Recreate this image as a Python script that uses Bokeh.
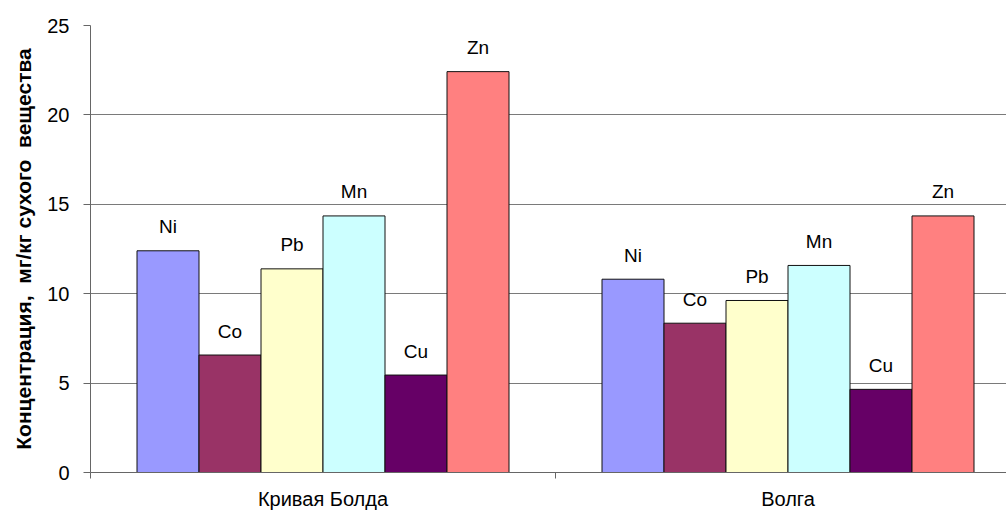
from bokeh.plotting import figure
from bokeh.models import ColumnDataSource, Range1d, FixedTicker
from bokeh.core.properties import value
from bokeh.embed import file_html
from bokeh.resources import INLINE

groups = ["Кривая Болда", "Волга"]
elements = ["Ni", "Co", "Pb", "Mn", "Cu", "Zn"]
kriv_bolda = [12.4, 6.57, 11.39, 14.35, 5.45, 22.42]
volga = [10.81, 8.35, 9.62, 11.58, 4.65, 14.35]
colors = ["#9999FF", "#993366", "#FFFFCC", "#CCFFFF", "#660066", "#FF8080"]
y_ticks = [0, 5, 10, 15, 20, 25]

FONT = "Liberation Sans"
bar_w = 1 / 7.5  # Excel gap width 150%

xs, tops, cols, labels = [], [], [], []
for g, vals in enumerate([kriv_bolda, volga]):
    for i, v in enumerate(vals):
        xs.append(g + (i + 1.25) * bar_w)
        tops.append(v)
        cols.append(colors[i])
        labels.append(elements[i])

src = ColumnDataSource(dict(x=xs, top=tops, color=cols, label=labels))

p = figure(frame_width=916, frame_height=447, output_backend="svg", toolbar_location=None,
           x_range=Range1d(0, 916 / 465), y_range=Range1d(0, 25),
           min_border_left=90, min_border_right=0, min_border_top=25, min_border_bottom=39)
p.outline_line_color = None
p.background_fill_color = "white"
p.border_fill_color = "white"

p.vbar(x="x", top="top", width=bar_w, bottom=0, fill_color="color",
       line_color="#111111", line_width=1, source=src)
p.text(x="x", y="top", text="label", source=src, text_align="center",
       text_baseline="middle", y_offset=-24, text_font=value(FONT),
       text_font_size="19px", text_color="black")

# grid
p.xgrid.grid_line_color = None
p.ygrid.ticker = FixedTicker(ticks=y_ticks)
p.ygrid.grid_line_color = "#7a7a7a"
p.ygrid.grid_line_width = 1

# y axis
ya = p.yaxis[0]
ya.ticker = FixedTicker(ticks=y_ticks)
ya.axis_line_color = "#666666"
ya.major_tick_line_color = "#666666"
ya.major_tick_out = 7
ya.major_tick_in = 0
ya.minor_tick_line_color = None
ya.major_label_text_font = FONT
ya.major_label_text_font_size = "20px"
ya.major_label_text_color = "black"
ya.major_label_standoff = 14
ya.axis_label = "Концентрация,\u00a0 мг/кг сухого\u00a0 вещества"
ya.axis_label_text_font = FONT
ya.axis_label_text_font_size = "21px"
ya.axis_label_text_font_style = "bold"
ya.axis_label_text_color = "black"
ya.axis_label_standoff = 9

# x axis
xa = p.xaxis[0]
xa.ticker = FixedTicker(ticks=[0.5, 1.5], minor_ticks=[0, 1, 2])
xa.major_label_overrides = {0.5: groups[0], 1.5: groups[1]}
xa.major_tick_line_color = None
xa.major_tick_out = 0
xa.major_tick_in = 0
xa.minor_tick_line_color = "#666666"
xa.minor_tick_out = 6
xa.minor_tick_in = 0
xa.axis_line_color = "#666666"
xa.major_label_text_font = FONT
xa.major_label_text_font_size = "20px"
xa.major_label_text_color = "black"
xa.major_label_standoff = 9

open("out.html", "w").write(file_html(p, INLINE))
